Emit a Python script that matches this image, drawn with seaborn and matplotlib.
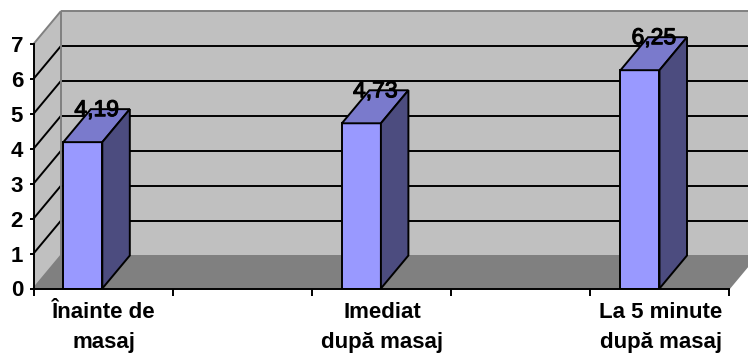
import matplotlib
matplotlib.use("Agg")
import matplotlib.pyplot as plt
from matplotlib.patches import Polygon
from matplotlib.lines import Line2D
import matplotlib.patheffects as pe
import numpy as np
import pandas as pd
import seaborn as sns

# Data
categories = ["Înainte de\nmasaj", "Imediat\ndupă masaj", "La 5 minute\ndupă masaj"]
values = [4.19, 4.73, 6.25]
y_ticks = [0, 1, 2, 3, 4, 5, 6, 7]

# Colours of the pseudo-3D column chart
FRONT = "#9999FF"
TOP = "#7A7ACC"
SIDE = "#4C4C7F"
WALL = "#C0C0C0"
FLOOR = "#808080"
BORDER = "#808080"

DPI = 100
W, H = 748, 354
DEPTH_PX = (27.5, 33.0)      # oblique depth of the walls and columns, in pixels
LW = 1.4

sns.set_theme(style="white")
plt.rcParams["font.family"] = ["Liberation Sans", "DejaVu Sans"]

fig = plt.figure(figsize=(W / DPI, H / DPI), dpi=DPI)
fig.patch.set_facecolor("white")
ax = fig.add_axes([33.5 / W, (H - 288.5) / H, (729 - 33.5) / W, (288.5 - 44) / H])
ax.patch.set_visible(False)

df = pd.DataFrame({"etapa": categories, "valoare": values})
sns.barplot(data=df, x="etapa", y="valoare", color=FRONT, saturation=1,
            width=0.14, edgecolor="black", linewidth=LW, ax=ax, zorder=3)

xmin, xmax = -0.177, 2.3195
ymin, ymax = 0, 7
ax.set_xlim(xmin, xmax)
ax.set_ylim(ymin, ymax)

# depth offset expressed in data units
ddx = DEPTH_PX[0] * (xmax - xmin) / ax.bbox.width
ddy = DEPTH_PX[1] * (ymax - ymin) / ax.bbox.height

def poly(pts, fc, z, ec="none", lw=0):
    ax.add_patch(Polygon(pts, closed=True, facecolor=fc, edgecolor=ec,
                         linewidth=lw, zorder=z, clip_on=False))

def seg(p, q, c, z, lw=LW):
    ax.add_line(Line2D([p[0], q[0]], [p[1], q[1]], color=c, linewidth=lw,
                       zorder=z, clip_on=False, solid_capstyle="butt"))

# walls and floor
poly([(xmin + ddx, ymin + ddy), (xmax + ddx, ymin + ddy),
      (xmax + ddx, ymax + ddy), (xmin + ddx, ymax + ddy)], WALL, 0.5)
poly([(xmin, ymin), (xmin + ddx, ymin + ddy),
      (xmin + ddx, ymax + ddy), (xmin, ymax)], WALL, 0.5)
poly([(xmin, ymin), (xmax, ymin), (xmax + ddx, ymin + ddy),
      (xmin + ddx, ymin + ddy)], FLOOR, 0.6)

# gridlines across the back wall and the side wall
for v in y_ticks[1:-1]:
    seg((xmin + ddx, v + ddy), (xmax + ddx, v + ddy), "black", 0.8)
    seg((xmin, v), (xmin + ddx, v + ddy), "black", 0.8)

# wall borders
seg((xmin, ymax), (xmin + ddx, ymax + ddy), BORDER, 0.9)
seg((xmin + ddx, ymax + ddy), (xmax + ddx, ymax + ddy), BORDER, 0.9)
seg((xmin + ddx, ymin + ddy), (xmin + ddx, ymax + ddy), BORDER, 0.9)
seg((xmin + ddx, ymin + ddy), (xmax + ddx, ymin + ddy), BORDER, 0.9)
seg((xmin, ymin), (xmin + ddx, ymin + ddy), BORDER, 0.9)
seg((xmax, ymin), (xmax + ddx, ymin + ddy), BORDER, 0.9)

# top and side faces of each column, built from the bars seaborn drew
for bar, v in zip(ax.patches[:len(values)], values):
    x0, w, h = bar.get_x(), bar.get_width(), bar.get_height()
    poly([(x0, h), (x0 + w, h), (x0 + w + ddx, h + ddy), (x0 + ddx, h + ddy)],
         TOP, 3.1, ec="black", lw=LW)
    poly([(x0 + w, 0), (x0 + w + ddx, ddy), (x0 + w + ddx, h + ddy), (x0 + w, h)],
         SIDE, 3.1, ec="black", lw=LW)
    ax.annotate(f"{v:.2f}".replace(".", ","), xy=(x0 + w / 2, h),
                xytext=(DEPTH_PX[0] / 2 * 72 / DPI, 26 * 72 / DPI),
                textcoords="offset points", ha="center", va="baseline",
                fontsize=16.5, color="black", zorder=5, annotation_clip=False,
                path_effects=[pe.withStroke(linewidth=0.8, foreground="black")])

# axes, ticks and labels
label_shift = 0.0743
ax.set_xticks([i + label_shift for i in range(len(categories))])
ax.set_xticklabels(categories, fontsize=16, fontweight="bold", color="black")
for lbl in ax.get_xticklabels():
    lbl.set_linespacing(1.6)
ax.set_xticks(np.linspace(xmin, xmax, 2 * len(categories)), minor=True)
ax.tick_params(axis="x", which="major", length=0, pad=9.6, bottom=True)
ax.tick_params(axis="x", which="minor", length=5, width=LW, color="black",
               direction="out", bottom=True)

ax.set_yticks(y_ticks)
ax.set_yticklabels([str(t) for t in y_ticks], fontsize=16, fontweight="bold",
                   color="black")
ax.tick_params(axis="y", length=3, width=LW, color="black", pad=4.5,
               left=True, direction="out")

ax.set_xlabel("")
ax.set_ylabel("")
ax.grid(False)
for s in ("top", "right"):
    ax.spines[s].set_visible(False)
for s in ("left", "bottom"):
    ax.spines[s].set_color("black")
    ax.spines[s].set_linewidth(LW)
    ax.spines[s].set_zorder(4)

fig.savefig("out.png", dpi=DPI)
